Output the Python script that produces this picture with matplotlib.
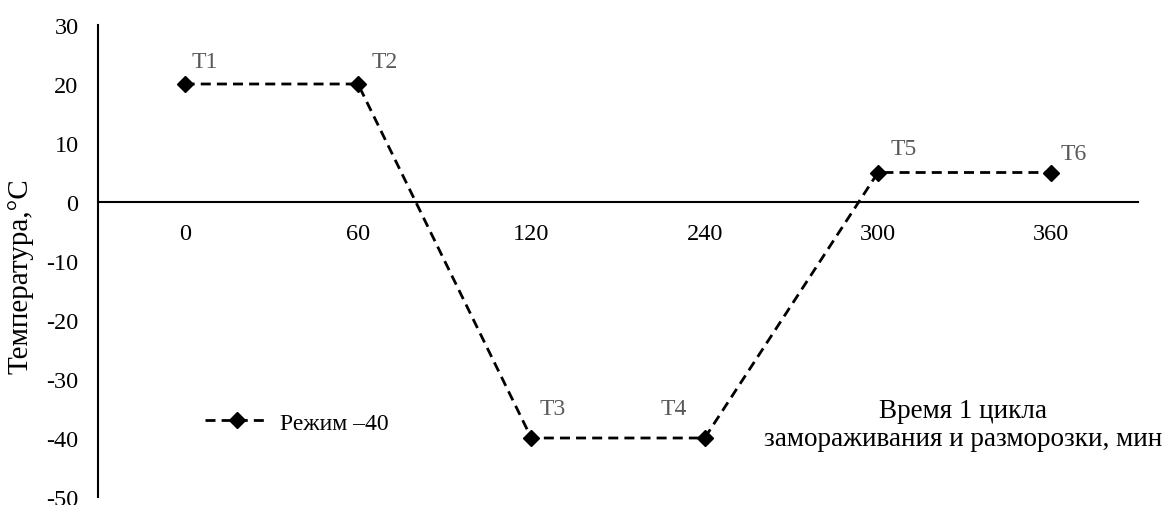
import matplotlib.pyplot as plt

plt.rcParams['font.family'] = ['Liberation Serif', 'DejaVu Serif']

times = ['0', '60', '120', '240', '300', '360']
temps = [20, 20, -40, -40, 5, 5]
point_labels = ['T1', 'T2', 'T3', 'T4', 'T5', 'T6']
yticks = [30, 20, 10, 0, -10, -20, -30, -40, -50]

fig = plt.figure(figsize=(11.76, 5.06), dpi=100)
ax = fig.add_axes([98 / 1176, 8 / 506, 1040 / 1176, 472 / 506])

x = list(range(len(times)))
ax.plot(x, temps, color='black', linestyle=(0, (3.6, 2.2)), linewidth=2,
        marker='D', markersize=8.5, label='Режим –40')

# label placement (offset points, horizontal alignment) for each point
offsets = [(5, 16.5, 'left'), (10, 16.5, 'left'), (6, 21.5, 'left'),
           (-13, 21.5, 'right'), (9, 17, 'left'), (7, 13.5, 'left')]
for xi, yi, lab, (dx, dy, ha) in zip(x, temps, point_labels, offsets):
    ax.annotate(lab, (xi, yi), xytext=(dx, dy), textcoords='offset points',
                fontsize=17, color='#595959', ha=ha, va='center')

ax.set_xlim(-0.5, len(times) - 0.5)
ax.set_ylim(-50, 30)

ax.spines['top'].set_visible(False)
ax.spines['right'].set_visible(False)
ax.spines['bottom'].set_position(('data', 0))
ax.spines['left'].set_linewidth(1.5)
ax.spines['bottom'].set_linewidth(1.5)

ax.set_yticks(yticks)
ax.set_yticklabels([str(v) for v in yticks])
ax.set_xticks(x)
ax.set_xticklabels(times)
ax.tick_params(axis='both', length=0, labelsize=17.5)
ax.tick_params(axis='x', pad=15)
ax.tick_params(axis='y', pad=14)

ax.set_ylabel('Температура,°C', fontsize=21)
ax.yaxis.set_label_coords(-0.062, 0.47)

ax.text(0.832, 0.153, 'Время 1 цикла\nзамораживания и разморозки, мин',
        transform=ax.transAxes, fontsize=19.5, ha='center', va='center',
        linespacing=1.15)

ax.legend(loc='center left', bbox_to_anchor=(0.082, 0.157), frameon=False,
          fontsize=17, handlelength=2.75, handletextpad=0.45)

fig.savefig('out.png', dpi=100)
